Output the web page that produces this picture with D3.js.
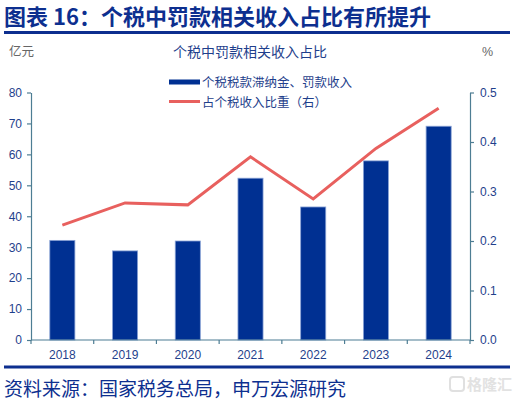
<!DOCTYPE html>
<html><head><meta charset="utf-8">
<script src="https://cdn.jsdelivr.net/npm/d3@7"></script>
<style>
html,body{margin:0;padding:0;background:#fff;}
svg{display:block;}
</style>
</head><body>
<script>
const years = ["2018","2019","2020","2021","2022","2023","2024"];
const fines = [32.2, 28.8, 32.0, 52.3, 43.0, 57.9, 69.1];
const share = [0.232, 0.277, 0.273, 0.370, 0.285, 0.387, 0.468];
const leftTicks = [0,10,20,30,40,50,60,70,80];
const rightTicks = [0,0.1,0.2,0.3,0.4,0.5];

const W = 531, H = 403;
const cjk = "'Noto Sans CJK SC','Noto Sans',sans-serif";
const num = "'Liberation Sans',Arial,sans-serif";
const blue = "#003092", red = "#e8605e", axisC = "#4d7d93", labC = "#1f3f8c";

const svg = d3.select("body").append("svg").attr("width", W).attr("height", H);

// title
svg.append("text").attr("x", 4).attr("y", 25).attr("font-family", cjk).attr("font-weight", "bold")
  .attr("font-size", 22).attr("fill", "#0d2f8f").text("图表 16：个税中罚款相关收入占比有所提升");
svg.append("rect").attr("x", 4).attr("y", 31).attr("width", 506).attr("height", 3).attr("fill", "#0d2f8f");
svg.append("rect").attr("x", 4).attr("y", 365.5).attr("width", 506).attr("height", 3).attr("fill", "#0d2f8f");
svg.append("text").attr("x", 4).attr("y", 396).attr("font-family", cjk).attr("font-size", 19)
  .attr("fill", "#0d2f8f").text("资料来源：国家税务总局，申万宏源研究");
// watermark
svg.append("rect").attr("x", 450).attr("y", 377).attr("width", 14).attr("height", 14).attr("rx", 3)
  .attr("fill", "none").attr("stroke", "#e0e0e0").attr("stroke-width", 2);
svg.append("text").attr("x", 467).attr("y", 390).attr("font-family", cjk).attr("font-size", 15)
  .attr("fill", "#e2e2e2").attr("font-weight", "bold").text("格隆汇");

// chart labels
svg.append("text").attr("x", 250).attr("y", 57).attr("text-anchor", "middle").attr("font-family", cjk)
  .attr("font-size", 14).attr("fill", labC).text("个税中罚款相关收入占比");
svg.append("text").attr("x", 9).attr("y", 56).attr("font-family", cjk).attr("font-size", 12.5)
  .attr("fill", "#666").text("亿元");
svg.append("text").attr("x", 482).attr("y", 56).attr("font-family", num).attr("font-size", 12.5)
  .attr("fill", "#666").text("%");

const x = d3.scaleBand().domain(years).range([31, 470]).paddingInner(0.6).paddingOuter(0.3);
const yL = d3.scaleLinear().domain([0, 80]).range([340, 92.5]);
const yR = d3.scaleLinear().domain([0, 0.5]).range([340, 92.5]);

// bars
svg.selectAll("rect.bar").data(years).enter().append("rect").attr("class", "bar")
  .attr("x", d => x(d)).attr("width", x.bandwidth())
  .attr("y", (d, i) => yL(fines[i])).attr("height", (d, i) => 340 - yL(fines[i]))
  .attr("fill", blue).attr("stroke", "#8aa3d6").attr("stroke-width", 0.8);

// line
const line = d3.line().x((d, i) => x(years[i]) + x.bandwidth() / 2).y(d => yR(d));
svg.append("path").datum(share).attr("d", line).attr("fill", "none")
  .attr("stroke", red).attr("stroke-width", 3).attr("stroke-linejoin", "miter");

function styleAxis(g) {
  g.selectAll("path,line").attr("stroke", axisC).attr("stroke-width", 1.2);
  g.selectAll("text").attr("fill", labC).attr("font-family", num).attr("font-size", 12);
}
// left axis
svg.append("g").attr("transform", "translate(31,0)")
  .call(d3.axisLeft(yL).tickValues(leftTicks).tickSize(4).tickSizeOuter(0).tickPadding(5))
  .call(styleAxis);
// right axis
svg.append("g").attr("transform", "translate(470,0)")
  .call(d3.axisRight(yR).tickValues(rightTicks).tickFormat(d3.format(".1f")).tickSize(4).tickSizeOuter(0).tickPadding(6))
  .call(styleAxis);
// x axis with ticks at band boundaries
const xg = svg.append("g").attr("transform", "translate(0,340)");
xg.append("line").attr("x1", 31).attr("x2", 470).attr("y1", 0).attr("y2", 0);
const bounds = d3.range(years.length + 1).map(i => 31 + i * (439 / years.length));
xg.selectAll("line.t").data(bounds).enter().append("line").attr("class", "t")
  .attr("x1", d => d).attr("x2", d => d).attr("y1", 0).attr("y2", 4);
xg.selectAll("text").data(years).enter().append("text")
  .attr("x", d => x(d) + x.bandwidth() / 2).attr("y", 19).attr("text-anchor", "middle").text(d => d);
styleAxis(xg);

// legend
svg.append("rect").attr("x", 169).attr("y", 79.5).attr("width", 31).attr("height", 5).attr("fill", blue);
svg.append("text").attr("x", 202).attr("y", 86.5).attr("font-family", cjk).attr("font-size", 12.5)
  .attr("fill", labC).text("个税税款滞纳金、罚款收入");
svg.append("line").attr("x1", 169).attr("x2", 200).attr("y1", 101.5).attr("y2", 101.5)
  .attr("stroke", red).attr("stroke-width", 3);
svg.append("text").attr("x", 202).attr("y", 106.5).attr("font-family", cjk).attr("font-size", 12.5)
  .attr("fill", labC).text("占个税收入比重（右）");
</script>
</body></html>
